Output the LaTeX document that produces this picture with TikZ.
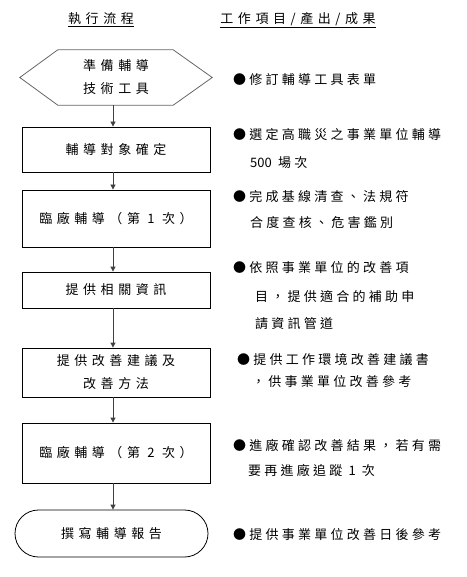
\documentclass[tikz,border=0pt]{standalone}
\usepackage{fontspec}
\newfontfamily\cjkbox[LetterSpace=35]{Noto Sans CJK TC}
\newfontfamily\cjkcol[LetterSpace=25]{Noto Sans CJK TC}
\usetikzlibrary{arrows.meta,calc}
\tikzset{
  boxnode/.style={draw=black, line width=0.8pt, minimum width=188pt, inner sep=0pt, align=center, font=\cjkbox\fontsize{13pt}{23pt}\selectfont},
  plain/.style={inner sep=0pt, align=center, font=\cjkbox\fontsize{13pt}{23pt}\selectfont},
  coltext/.style={inner sep=0pt, anchor=west, font=\cjkcol\fontsize{13pt}{16pt}\selectfont},
  arr/.style={draw=black!75, line width=0.8pt, -{Triangle[length=5pt,width=5pt]}},
}
\begin{document}
\begin{tikzpicture}[x=1pt,y=-1pt]
\useasboundingbox (0,0) rectangle (466,577);
% headers
\node[plain] (h1) at (101,20) {\underline{執行流程}};
\node[plain] (h2) at (298,20) {\underline{工作項目/產出/成果}};
% hexagon
\node[plain, minimum width=192pt, minimum height=55pt] (hex) at (116,77.5) {準備輔導\\技術工具};
\draw[draw=black!60, line width=0.8pt] (hex.west) -- ($(hex.north west)+(38,0)$) -- ($(hex.north east)+(-39,0)$) -- (hex.east) -- ($(hex.south east)+(-39,0)$) -- ($(hex.south west)+(38,0)$) -- cycle;
% boxes
\node[boxnode, minimum height=45pt] (b1) at (116,149.5) {輔導對象確定};
\node[boxnode, minimum height=57pt] (b2) at (116,218.5) {臨廠輔導（第 1 次）};
\node[boxnode, minimum height=36pt] (b3) at (116,290) {提供相關資訊};
\node[boxnode, minimum height=49pt] (b4) at (116,372.5) {提供改善建議及\\改善方法};
\node[boxnode, minimum height=60pt] (b5) at (116,453) {臨廠輔導（第 2 次）};
\node[boxnode, minimum width=193pt, minimum height=47pt, rounded corners=23.5pt] (b6) at (111.5,533.5) {撰寫輔導報告};
% arrows
\draw[arr] ([xshift=-3pt]hex.south) -- ([xshift=-3pt]b1.north);
\draw[arr] ([xshift=-3pt]b1.south) -- ([xshift=-3pt]b2.north);
\draw[arr] ([xshift=-3pt]b2.south) -- ([xshift=-3pt]b3.north);
\draw[arr] ([xshift=-3pt]b3.south) -- ([xshift=-3pt]b4.north);
\draw[arr] ([xshift=-3pt]b4.south) -- ([xshift=-3pt]b5.north);
\draw[arr] ([xshift=-3pt]b5.south) -- ([xshift=1.5pt]b6.north);
% right column
\node[coltext] (t1) at (233,80) {●修訂輔導工具表單};
\node[coltext] (t2) at (233,135) {●選定高職災之事業單位輔導};
\node[coltext] (t2b) at (250,163) {{\fontspec{Noto Sans CJK TC}500} 場次};
\node[coltext] (t3) at (233,197) {●完成基線清查、法規符};
\node[coltext] (t3b) at (250,223) {合度查核、危害鑑別};
\node[coltext] (t4) at (233,268) {●依照事業單位的改善項};
\node[coltext] (t4b) at (255,297) {目，提供適合的補助申};
\node[coltext] (t4c) at (255,324) {請資訊管道};
\node[coltext] (t5) at (237,360) {●提供工作環境改善建議書};
\node[coltext] (t5b) at (252,382) {，供事業單位改善參考};
\node[coltext] (t6) at (233,445) {●進廠確認改善結果，若有需};
\node[coltext] (t6b) at (248,470) {要再進廠追蹤 1 次};
\node[coltext] (t7) at (233,535) {●提供事業單位改善日後參考};
\end{tikzpicture}
\end{document}
